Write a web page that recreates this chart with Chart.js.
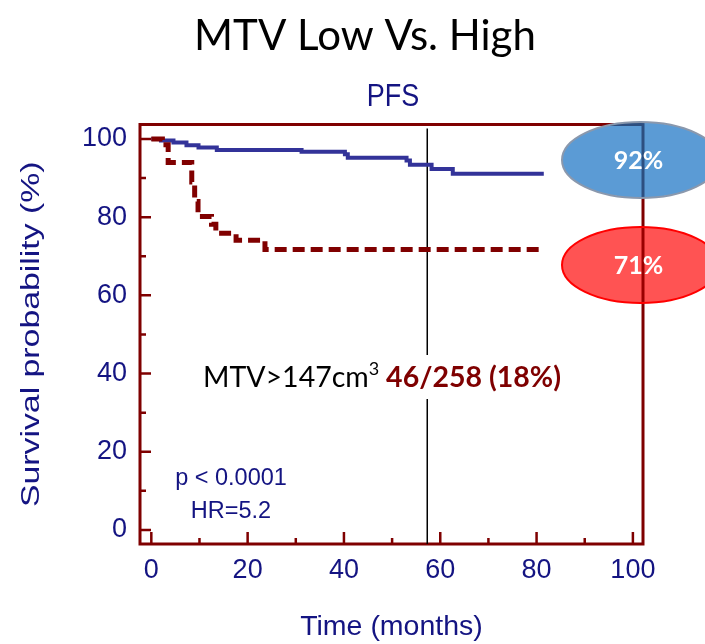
<!DOCTYPE html>
<html>
<head>
<meta charset="utf-8">
<title>MTV Low Vs. High</title>
<style>
  html, body { margin: 0; padding: 0; background: #fff; }
  canvas { display: block; }
</style>
<script src="https://cdn.jsdelivr.net/npm/chart.js@4.4.1/dist/chart.umd.min.js"></script>
</head>
<body>
<canvas id="km" width="705" height="644"></canvas>
<script>
// Kaplan-Meier steps: time of each drop (months) and survival after it (%)
const lowTimes = [0, 2.0, 4.6, 7.3, 9.8, 13.6, 31.2, 40.2, 40.8, 53.0, 53.7, 58.2, 62.6, 81.5];
const lowSurv  = [100, 99.6, 99.1, 98.4, 97.8, 97.2, 96.7, 96.1, 95.2, 94.5, 93.4, 92.3, 91.1, 91.1];
const highTimes = [0, 2.3, 3.5, 8.4, 9.0, 9.7, 12.5, 13.4, 17.6, 23.6, 81.5];
const highSurv  = [100, 98.5, 94.0, 89.0, 84.0, 80.2, 78.2, 75.9, 74.1, 71.7, 71.7];

const xTickVals = [0, 20, 40, 60, 80, 100];
const yTickVals = [0, 20, 40, 60, 80, 100];
const followUp = 57.3;           // vertical reference line (months)
const rateLabels = ['92%', '71%']; // low, high

const NAVY = '#141482';
const FRAME = '#7f0000';
const SANS = '"Liberation Sans", Arial, sans-serif';
const SLIDE = 'Lato, "Open Sans", sans-serif';

const toPoints = (t, s) => t.map((v, i) => ({ x: v, y: s[i] }));

const decorations = {
  id: 'decorations',
  beforeDatasetsDraw(chart) {
    const { ctx, chartArea: a, scales: { x, y } } = chart;
    ctx.save();
    // frame
    ctx.strokeStyle = FRAME;
    ctx.lineWidth = 3;
    ctx.strokeRect(a.left, a.top, a.right - a.left, a.bottom - a.top);
    // inward tick marks, majors and the minors between them
    ctx.lineWidth = 2.5;
    ctx.beginPath();
    yTickVals.forEach((v, i) => {
      let py = y.getPixelForValue(v);
      ctx.moveTo(a.left, py); ctx.lineTo(a.left + 11, py);
      if (i > 0) {
        py = y.getPixelForValue((v + yTickVals[i - 1]) / 2);
        ctx.moveTo(a.left, py); ctx.lineTo(a.left + 6, py);
      }
    });
    xTickVals.forEach((v, i) => {
      let px = x.getPixelForValue(v);
      ctx.moveTo(px, a.bottom); ctx.lineTo(px, a.bottom - 12);
      if (i > 0) {
        px = x.getPixelForValue((v + xTickVals[i - 1]) / 2);
        ctx.moveTo(px, a.bottom); ctx.lineTo(px, a.bottom - 6);
      }
    });
    ctx.stroke();
    // follow-up marker
    const fx = x.getPixelForValue(followUp);
    ctx.strokeStyle = '#000';
    ctx.lineWidth = 1.5;
    ctx.beginPath();
    ctx.moveTo(fx, a.top + 4);
    ctx.lineTo(fx, a.bottom);
    ctx.stroke();
    ctx.restore();
  },
  afterDraw(chart) {
    const { ctx, chartArea: a } = chart;
    ctx.save();

    // titles
    ctx.fillStyle = '#000';
    ctx.textAlign = 'center';
    ctx.textBaseline = 'alphabetic';
    ctx.font = '42px ' + SLIDE;
    ctx.fillText('MTV Low Vs. High', 365, 50);
    ctx.fillStyle = NAVY;
    ctx.save();
    ctx.translate(393, 106);
    ctx.scale(1, 1.15);
    ctx.font = '27px ' + SANS;
    ctx.fillText('PFS', 0, 0);
    ctx.restore();

    // y axis title, stretched along its length like the slide
    ctx.save();
    ctx.translate(32, (a.top + a.bottom) / 2);
    ctx.rotate(-Math.PI / 2);
    ctx.scale(1.3, 1);
    ctx.textBaseline = 'middle';
    ctx.font = '26px ' + SANS;
    ctx.fillText('Survival probability (%)', 0, 0);
    ctx.restore();

    // p value / hazard ratio
    ctx.font = '23.5px ' + SANS;
    ctx.fillText('p < 0.0001', 231, 485);
    ctx.fillText('HR=5.2', 231, 518);

    // high MTV group note, on a white box that hides the marker line
    const parts = [
      { t: 'MTV>147cm', f: '28.5px ' + SLIDE, c: '#000', dy: 0 },
      { t: '3', f: '18px ' + SLIDE, c: '#000', dy: -12 },
      { t: ' 46/258 (18%)', f: 'bold 28.5px ' + SLIDE, c: '#7f0000', dy: 0 }
    ];
    let total = 0;
    parts.forEach(p => { ctx.font = p.f; p.w = ctx.measureText(p.t).width; total += p.w; });
    let tx = 203;
    const base = 387;
    ctx.fillStyle = '#fff';
    ctx.fillRect(tx - 6, base - 32, total + 12, 44);
    ctx.textAlign = 'left';
    parts.forEach(p => {
      ctx.font = p.f;
      ctx.fillStyle = p.c;
      ctx.fillText(p.t, tx, base + p.dy);
      tx += p.w;
    });

    // rate ellipses on the right edge
    const cx = a.right - 2.5;
    const ellipses = [
      { cy: 160, fill: '#5b9bd5', edge: '#8a98ad', line: '#2d4f80', text: rateLabels[0] },
      { cy: 265, fill: '#ff5353', edge: '#ff0000', line: '#9a0000', text: rateLabels[1] }
    ];
    ellipses.forEach(e => {
      ctx.beginPath();
      ctx.ellipse(cx, e.cy, 78.5, 38, 0, 0, Math.PI * 2);
      ctx.fillStyle = e.fill;
      ctx.fill();
      // frame line showing through the shape
      ctx.save();
      ctx.clip();
      ctx.strokeStyle = e.line;
      ctx.lineWidth = 3;
      ctx.beginPath();
      ctx.moveTo(a.left, a.top);
      ctx.lineTo(a.right, a.top);
      ctx.lineTo(a.right, a.bottom);
      ctx.stroke();
      ctx.restore();
      ctx.beginPath();
      ctx.ellipse(cx, e.cy, 78.5, 38, 0, 0, Math.PI * 2);
      ctx.strokeStyle = e.edge;
      ctx.lineWidth = 2;
      ctx.stroke();
      ctx.fillStyle = '#fff';
      ctx.textAlign = 'center';
      ctx.textBaseline = 'middle';
      ctx.font = 'bold 25px ' + SLIDE;
      ctx.fillText(e.text, cx - 2, e.cy + 1);
    });
    ctx.restore();
  }
};

new Chart(document.getElementById('km'), {
  type: 'line',
  data: {
    datasets: [
      {
        label: 'MTV high',
        data: toPoints(highTimes, highSurv),
        borderColor: '#800000',
        borderWidth: 5,
        borderDash: [12, 6],
        stepped: 'before',
        pointRadius: 0,
        fill: false
      },
      {
        label: 'MTV low',
        data: toPoints(lowTimes, lowSurv),
        borderColor: '#333399',
        borderWidth: 4,
        stepped: 'before',
        pointRadius: 0,
        fill: false
      }
    ]
  },
  options: {
    responsive: false,
    animation: false,
    devicePixelRatio: 1,
    layout: { padding: { top: 124.5, right: 62, left: 0, bottom: 0 } },
    plugins: { legend: { display: false }, tooltip: { enabled: false } },
    scales: {
      x: {
        type: 'linear',
        min: -2.35,
        max: 102.1,
        afterBuildTicks: s => { s.ticks = xTickVals.map(v => ({ value: v })); },
        afterFit: s => { s.height = 100; },
        grid: { display: false, drawTicks: false },
        border: { display: false },
        ticks: { color: NAVY, font: { family: SANS, size: 27 }, padding: 10, maxRotation: 0, autoSkip: false },
        title: { display: true, text: 'Time (months)', color: NAVY, font: { family: SANS, size: 28.5 }, padding: 0 }
      },
      y: {
        min: -3.6,
        max: 103.7,
        afterBuildTicks: s => { s.ticks = yTickVals.map(v => ({ value: v })); },
        afterFit: s => { s.width = 140; },
        grid: { display: false, drawTicks: false },
        border: { display: false },
        ticks: { color: NAVY, font: { family: SANS, size: 27 }, padding: 13, autoSkip: false },
        title: { display: false }
      }
    }
  },
  plugins: [decorations]
});
</script>
</body>
</html>
